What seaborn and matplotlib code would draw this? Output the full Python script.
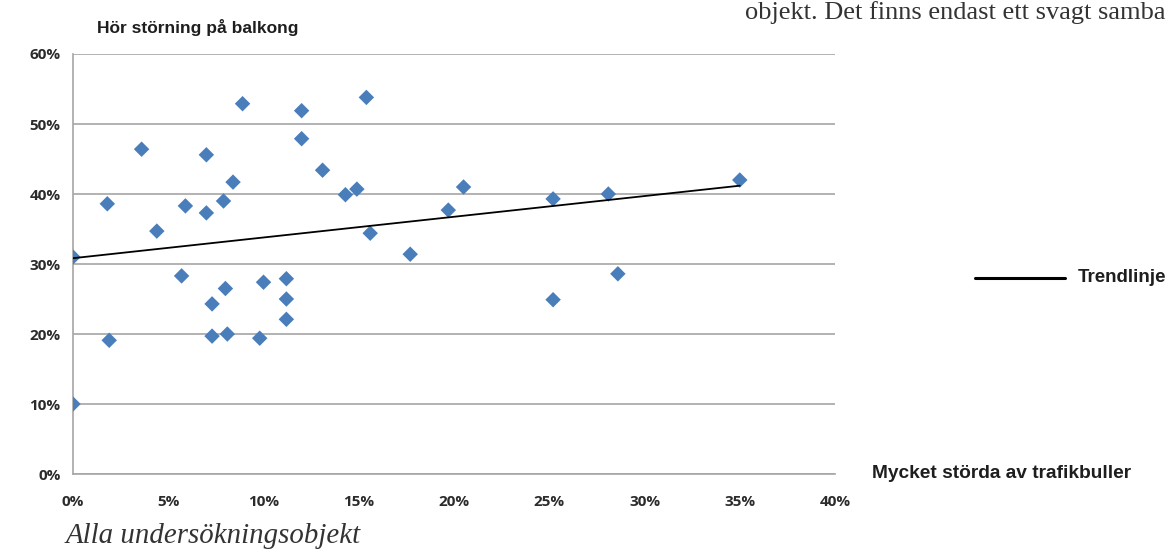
import matplotlib
matplotlib.use("Agg")
import matplotlib.pyplot as plt
import seaborn as sns
import numpy as np
import pandas as pd
from matplotlib.ticker import PercentFormatter

# data: andel mycket störda av trafikbuller (x) mot andel som hör störning på balkong (y), i procent
storda = [0, 1.8, 3.6, 4.4, 5.7, 5.9, 7.0, 7.0, 7.9, 8.4, 8.9, 12.0, 12.0, 13.1,
          14.3, 14.9, 15.4, 15.6, 17.7, 19.7, 20.5, 25.2, 28.1, 35.0, 28.6, 7.3,
          8.0, 7.3, 8.1, 9.8, 10.0, 11.2, 11.2, 11.2, 1.9, 0, 25.2]
balkong = [31.0, 38.6, 46.4, 34.7, 28.3, 38.3, 37.3, 45.6, 39.0, 41.7, 52.9, 51.9,
           47.9, 43.4, 39.9, 40.7, 53.8, 34.4, 31.4, 37.7, 41.0, 39.3, 40.0, 42.0,
           28.6, 24.3, 26.5, 19.7, 20.0, 19.4, 27.4, 27.9, 25.0, 22.1, 19.1, 10.0, 24.9]
x_ticks = [0, 5, 10, 15, 20, 25, 30, 35, 40]
y_ticks = [0, 10, 20, 30, 40, 50, 60]

df = pd.DataFrame({"storda": storda, "balkong": balkong})

sns.set_style("white")
plt.rcParams["font.family"] = ["Liberation Sans", "DejaVu Sans"]

fig = plt.figure(figsize=(11.7, 5.51), dpi=100)
ax = fig.add_axes([0.0624, 0.1397, 0.6513, 0.7623])

sns.scatterplot(data=df, x="storda", y="balkong", marker="D", s=62,
                color="#4a7ebb", edgecolor="none", ax=ax, zorder=3)
# trendlinje (linjär anpassning)
sns.regplot(data=df, x="storda", y="balkong", scatter=False, ci=None, truncate=True,
            color="black", line_kws={"lw": 1.3, "zorder": 4}, ax=ax)

ax.set_xlim(0, 40)
ax.set_ylim(0, 60)
ax.set_xticks(x_ticks)
ax.set_yticks(y_ticks)
ax.xaxis.set_major_formatter(PercentFormatter(100, decimals=0))
ax.yaxis.set_major_formatter(PercentFormatter(100, decimals=0))
ax.set_xlabel("")
ax.set_ylabel("")

ax.yaxis.grid(True, color="#a6a6a6", lw=1.2)
ax.xaxis.grid(False)
for s in ["top", "right"]:
    ax.spines[s].set_visible(False)
for s in ["left", "bottom"]:
    ax.spines[s].set_color("#a6a6a6")
    ax.spines[s].set_linewidth(1.2)
ax.tick_params(axis="both", direction="out", length=4, width=1, color="#a6a6a6",
               labelsize=11, labelcolor="#2b2b2b")
ax.tick_params(axis="x", pad=11)
ax.tick_params(axis="y", pad=5)
for lab in ax.get_xticklabels() + ax.get_yticklabels():
    lab.set_fontfamily(["Open Sans", "DejaVu Sans"])
    lab.set_fontweight("bold")

lbl = dict(color="#1e1e1e", va="center", ha="left", fontweight="bold")
fig.text(97 / 1170, 1 - 27 / 551, "Hör störning på balkong", fontsize=12.5, **lbl)
fig.text(872 / 1170, 1 - 473 / 551, "Mycket störda av trafikbuller", fontsize=13.8, **lbl)
fig.text(1078 / 1170, 1 - 277 / 551, "Trendlinje", fontsize=13.5, **lbl)
fig.add_artist(plt.Line2D([975 / 1170, 1065 / 1170], [1 - 278 / 551, 1 - 278 / 551],
                          color="black", lw=2.2, transform=fig.transFigure))
fig.text(66 / 1170, 1 - 536 / 551, "Alla undersökningsobjekt", fontsize=20.8,
         style="italic", family=["Liberation Serif", "DejaVu Serif"],
         color="#333333", va="center", ha="left")
fig.text(745 / 1170, 1 - 19 / 551, "objekt. Det finns endast ett svagt samba",
         fontsize=19, family=["Liberation Serif", "DejaVu Serif"],
         color="#333333", va="baseline", ha="left")

fig.savefig("out.png", dpi=100)
